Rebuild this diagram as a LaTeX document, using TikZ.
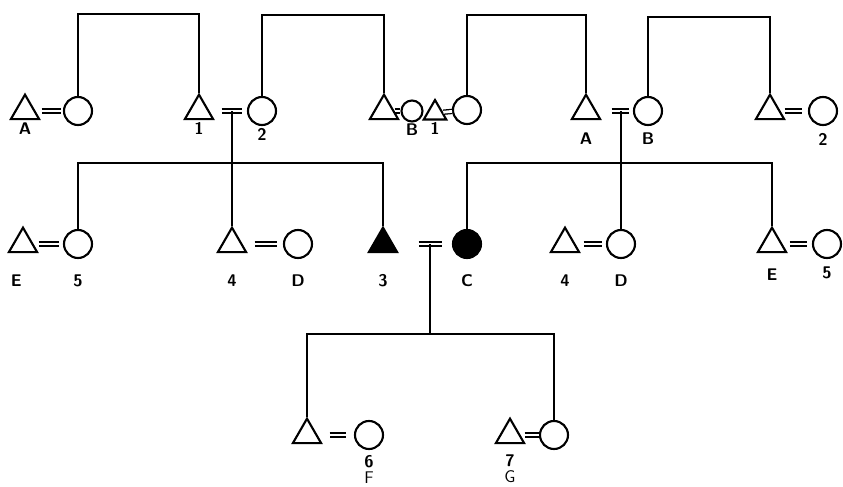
\documentclass[tikz,border=0pt]{standalone}
\usetikzlibrary{shapes.geometric,calc}

\begin{document}
\begin{tikzpicture}[
        x=0.3mm, y=-0.3mm,
        male/.style={
            regular polygon, regular polygon sides=3,
            draw, line width=1.8pt,
            minimum size=9.8mm, inner sep=0pt
        },
        female/.style={
            circle, draw, line width=1.8pt,
            minimum size=8.4mm, inner sep=0pt
        },
        affected/.style={fill=black},
        couple/.style={double, double distance=2.4pt, line width=1.1pt},
        kin/.style={line width=2.2pt},
        every label/.style={font=\sffamily\bfseries\Large, inner sep=0pt, align=center}
    ]
        \useasboundingbox (0,0) rectangle (843,487);

        % first generation
        \node[male, label={[label distance=0.6mm]below:A}] (ta) at (25,111) {};
        \node[female] (wa) at (78,111) {};
        \node[male, label={[label distance=0.6mm]below:1}] (t1) at (199,111) {};
        \node[female, label={[label distance=0.5mm]below:2}] (w2) at (262,111) {};
        \node[male] (tb) at (384,111) {};
        \node[female, minimum size=6.3mm, label={[label distance=0.4mm]below:B}] (wb) at (412,111) {};
        \node[male, minimum size=7.8mm, label={[label distance=0.5mm]below:1}] (t1r) at (435,113) {};
        \node[female] (wi) at (467,110) {};
        \node[male, label={[label distance=3.6mm]below:A}] (tA) at (586,111) {};
        \node[female, label={[label distance=2mm]below:B}] (wB) at (648,111) {};
        \node[male] (t2) at (770,111) {};
        \node[female, label={[label distance=2mm]below:2}] (w2r) at (823,111) {};

        \draw[couple, shorten <=1.8mm, shorten >=0.6mm] (ta) -- (wa);
        \draw[couple, shorten <=3.6mm, shorten >=1.5mm] (t1) -- coordinate[pos=0.6] (m12) (w2);
        \draw[couple] (tb) -- (wb);
        \draw[couple] (t1r) -- (wi);
        \draw[couple, shorten <=4.5mm, shorten >=1.2mm] (tA) -- coordinate[pos=0.67] (mAB) (wB);
        \draw[couple, shorten <=1.2mm, shorten >=1.8mm] (t2) -- (w2r);

        % sibling lines above
        \coordinate (topa) at (140,14);
        \coordinate (topb) at (320,15);
        \coordinate (topc) at (525,15);
        \coordinate (topd) at (710,17);
        \draw[kin] (wa.north) |- (topa) -| (t1.north);
        \draw[kin] (w2.north) |- (topb) -| (tb.north);
        \draw[kin] (wi.north) |- (topc) -| (tA.north);
        \draw[kin] (wB.north) |- (topd) -| (t2.north);

        % second generation
        \node[male, label={[label distance=6.3mm, xshift=-2mm]below:E}] (te) at (23,244) {};
        \node[female, label={[label distance=4.5mm]below:5}] (w5) at (78,244) {};
        \node[male, label={[label distance=6.3mm]below:4}] (t4) at (232,244) {};
        \node[female, label={[label distance=4.5mm]below:D}] (wd) at (298,244) {};
        \node[male, affected, label={[label distance=6.3mm]below:3}] (t3) at (383,244) {};
        \node[female, affected, label={[label distance=4.5mm]below:C}] (wc) at (467,244) {};
        \node[male, label={[label distance=6.3mm]below:4}] (t4r) at (565,244) {};
        \node[female, label={[label distance=4.5mm]below:D}] (wdr) at (621,244) {};
        \node[male, label={[label distance=4.5mm]below:E}] (ter) at (772,244) {};
        \node[female, label={[label distance=2.1mm]below:5}] (w5r) at (827,244) {};

        \draw[couple, shorten <=1.5mm, shorten >=1.2mm] (te) -- (w5);
        \draw[couple, shorten <=3.6mm, shorten >=1.8mm] (t4) -- (wd);
        \draw[couple, shorten <=7.5mm, shorten >=3mm] (t3) -- coordinate[pos=0.62] (m3C) (wc);
        \draw[couple, shorten <=2.4mm, shorten >=1.2mm] (t4r) -- (wdr);
        \draw[couple, shorten <=2.1mm, shorten >=1.5mm] (ter) -- (w5r);

        \coordinate (sibL) at (232,163);
        \coordinate (sibR) at (621,163);
        \draw[kin] (w5.north) |- (sibL) -| (t3.north);
        \draw[kin] (m12) -- (m12 |- t4.north);
        \draw[kin] (wc.north) |- (sibR) -| (ter.north);
        \draw[kin] (mAB) -- (mAB |- wdr.north);

        % third generation
        \node[male] (t6) at (307,435) {};
        \node[female, label={[label distance=1.5mm]below:6\\[-4.5pt]{\mdseries F}}] (wf) at (369,435) {};
        \node[male, label={[label distance=3mm]below:7\\[-4.5pt]{\mdseries G}}] (t7) at (510,435) {};
        \node[female] (wg) at (554,435) {};

        \draw[couple, shorten <=3.6mm, shorten >=2.4mm] (t6) -- (wf);
        \draw[couple, shorten <=1.2mm] (t7) -- (wg);

        \coordinate (sibB) at (430,334);
        \draw[kin] (t6.north) |- (sibB) -| (wg.north);
        \draw[kin] (m3C) -- (m3C |- sibB);
    \end{tikzpicture}
\end{document}
